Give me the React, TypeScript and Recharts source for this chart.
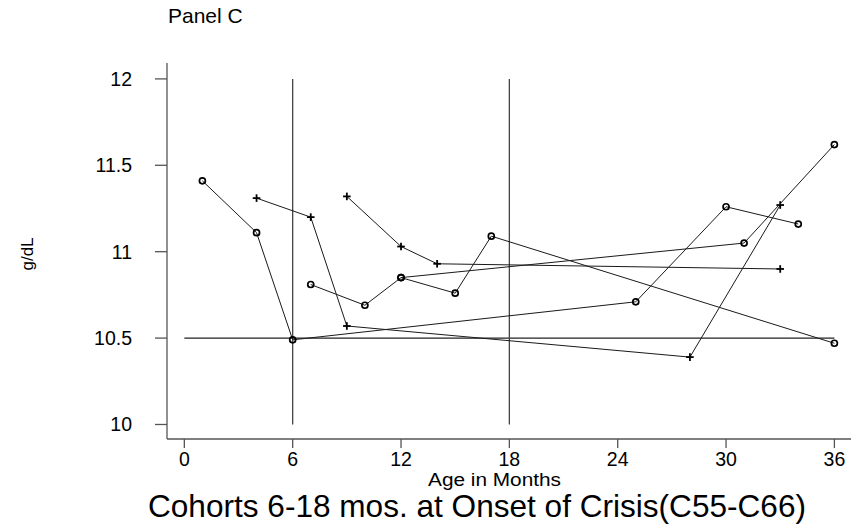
import React from "react";
import {
  ScatterChart,
  Scatter,
  XAxis,
  YAxis,
  ReferenceLine,
} from "recharts";

// Age in months (x) and haemoglobin g/dL (y) for each cohort
const cohortAMonths = [1, 4, 6, 25, 30, 34];
const cohortAHb = [11.41, 11.11, 10.49, 10.71, 11.26, 11.16];

const cohortBMonths = [4, 7, 9, 28, 33];
const cohortBHb = [11.31, 11.2, 10.57, 10.39, 11.27];

const cohortCMonths = [9, 12, 14, 33];
const cohortCHb = [11.32, 11.03, 10.93, 10.9];

const cohortDMonths = [7, 10, 12, 15, 17, 36];
const cohortDHb = [10.81, 10.69, 10.85, 10.76, 11.09, 10.47];

const cohortEMonths = [12, 31, 36];
const cohortEHb = [10.85, 11.05, 11.62];

const xTicks = [0, 6, 12, 18, 24, 30, 36];
const yTicks = [10, 10.5, 11, 11.5, 12];

const refHb = 10.5;
const crisisStart = 6;
const crisisEnd = 18;

const zip = (xs: number[], ys: number[]) => xs.map((x, i) => ({ x, y: ys[i] }));

const seriesA = zip(cohortAMonths, cohortAHb);
const seriesB = zip(cohortBMonths, cohortBHb);
const seriesC = zip(cohortCMonths, cohortCHb);
const seriesD = zip(cohortDMonths, cohortDHb);
const seriesE = zip(cohortEMonths, cohortEHb);

const FONT = "'Liberation Sans', Arial, Helvetica, sans-serif";
const INK = "#1a1a1a";

const CircleMark = (props: any) => {
  const { cx, cy } = props;
  if (cx == null || cy == null) return null;
  return <circle cx={cx} cy={cy} r={3} fill="none" stroke="#000" strokeWidth={1.7} />;
};

const PlusMark = (props: any) => {
  const { cx, cy } = props;
  if (cx == null || cy == null) return null;
  const h = 3.8;
  return (
    <g stroke="#000" strokeWidth={1.8}>
      <line x1={cx - h} y1={cy} x2={cx + h} y2={cy} />
      <line x1={cx} y1={cy - h} x2={cx} y2={cy + h} />
    </g>
  );
};

const lineStyle = { stroke: INK, strokeWidth: 1 };

export default function App() {
  return (
    <div
      style={{
        position: "absolute",
        left: 0,
        top: 0,
        width: 855,
        height: 532,
        background: "#fff",
      }}
    >
      <ScatterChart
        width={855}
        height={532}
        margin={{ top: 63, right: 4, bottom: 53, left: 107 }}
      >
        <XAxis
          type="number"
          dataKey="x"
          domain={[-0.96, 36.92]}
          ticks={xTicks}
          allowDataOverflow
          interval={0}
          axisLine={{ stroke: "#555", strokeWidth: 1.3 }}
          tickLine={{ stroke: "#555", strokeWidth: 1.3 }}
          tickSize={9}
          tickMargin={4}
          height={40}
          tick={{ fontSize: 19.5, fill: "#000", fontFamily: FONT }}
        />
        <YAxis
          type="number"
          dataKey="y"
          domain={[9.916, 12.092]}
          ticks={yTicks}
          allowDataOverflow
          interval={0}
          axisLine={{ stroke: "#555", strokeWidth: 1.3 }}
          tickLine={{ stroke: "#555", strokeWidth: 1.3 }}
          tickSize={12}
          tickMargin={23}
          width={60}
          tick={{ fontSize: 19.5, fill: "#000", fontFamily: FONT }}
        />
        <ReferenceLine
          segment={[
            { x: 0, y: refHb },
            { x: 36, y: refHb },
          ]}
          stroke="#222"
          strokeWidth={1.2}
        />
        <ReferenceLine
          segment={[
            { x: crisisStart, y: 10 },
            { x: crisisStart, y: 12 },
          ]}
          stroke="#444"
          strokeWidth={1.3}
        />
        <ReferenceLine
          segment={[
            { x: crisisEnd, y: 10 },
            { x: crisisEnd, y: 12 },
          ]}
          stroke="#444"
          strokeWidth={1.3}
        />
        <Scatter data={seriesA} line={lineStyle} lineType="joint" shape={CircleMark} isAnimationActive={false} />
        <Scatter data={seriesB} line={lineStyle} lineType="joint" shape={PlusMark} isAnimationActive={false} />
        <Scatter data={seriesC} line={lineStyle} lineType="joint" shape={PlusMark} isAnimationActive={false} />
        <Scatter data={seriesD} line={lineStyle} lineType="joint" shape={CircleMark} isAnimationActive={false} />
        <Scatter data={seriesE} line={lineStyle} lineType="joint" shape={CircleMark} isAnimationActive={false} />
      </ScatterChart>
      <svg
        width={855}
        height={532}
        style={{ position: "absolute", left: 0, top: 0, pointerEvents: "none" }}
      >
        <text x={168} y={23} fontSize={21} fontFamily={FONT} fill="#000">
          Panel C
        </text>
        <text
          x={32.5}
          y={254}
          fontSize={17}
          fontFamily={FONT}
          fill="#000"
          textAnchor="middle"
          transform="rotate(-90 32.5 254)"
        >
          g/dL
        </text>
        <text
          x={428}
          y={485.5}
          fontSize={17.5}
          fontFamily={FONT}
          fill="#000"
          textLength={133}
          lengthAdjust="spacingAndGlyphs"
        >
          Age in Months
        </text>
        <text
          x={148}
          y={517}
          fontSize={30.5}
          fontFamily={FONT}
          fill="#000"
          textLength={658}
          lengthAdjust="spacingAndGlyphs"
        >
          Cohorts 6-18 mos. at Onset of Crisis(C55-C66)
        </text>
      </svg>
    </div>
  );
}
